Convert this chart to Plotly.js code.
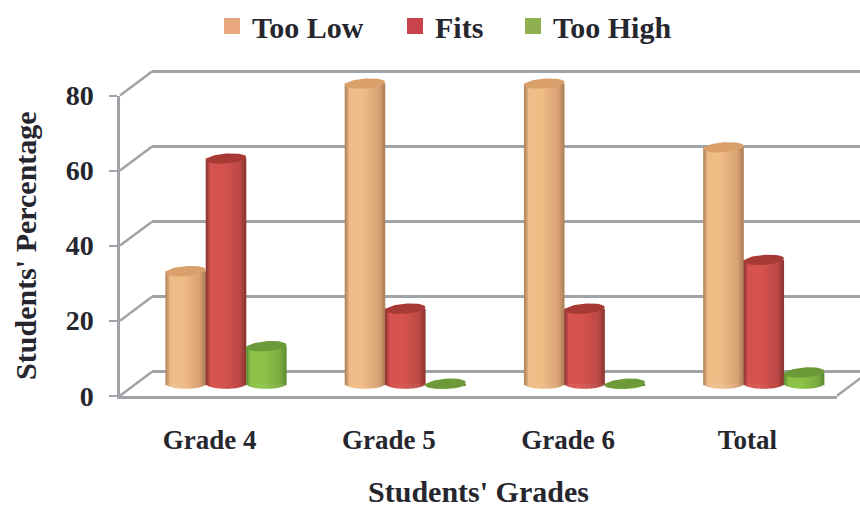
<!DOCTYPE html>
<html>
<head>
<meta charset="utf-8">
<script src="https://cdn.plot.ly/plotly-3.0.1.min.js"></script>
<style>html,body{margin:0;padding:0;background:#fff}</style>
</head>
<body>
<div id="chart" style="width:860px;height:509px"></div>
<script>
// Student responses per grade
const grades = ["Grade 4", "Grade 5", "Grade 6", "Total"];
const tooLow = [30, 80, 80, 63];
const fits = [60, 20, 20, 33];
const tooHigh = [10, 0, 0, 3];
const yTicks = [0, 20, 40, 60, 80];

const W = 860, H = 509;
const fx = x => x / W;
const fy = y => 1 - y / H;

// Pseudo-3D box: front plane, plane of the cylinders, back wall (pixel anchors)
const UNIT = 3.76;
const FRONT = {left: 120, right: 837, zero: 395.5};
const BACK = {left: 152, zero: 371.5};
const BARS = {left: 136.4, right: 853.4, zero: 383.5};
const GROUP = (FRONT.right - FRONT.left) / grades.length;
const BAR_W = 40.3 / GROUP;
const CAP_RY = 5 / UNIT;
const CAP_TILT = 1.5 / UNIT;

function valueAxis(zero, top, bottom) {
  return {
    domain: [fy(bottom), fy(top)],
    range: [(zero - bottom) / UNIT, (zero - top) / UNIT]
  };
}

const seriesDefs = [
  {name: "Too Low", values: tooLow, offset: -1, base: "#e6ae79", edge: "#a87c54", light: "#efbd87", shade: "#d8a274", cap: "#d9a06c", swatch: "#e8a77f", legend: "legend", legendX: 212},
  {name: "Fits", values: fits, offset: 0, base: "#c94e4a", edge: "#883330", light: "#d65350", shade: "#bb4945", cap: "#a83a36", swatch: "#c8434a", legend: "legend2", legendX: 395},
  {name: "Too High", values: tooHigh, offset: 1, base: "#84b944", edge: "#5c8a36", light: "#8cc247", shade: "#7aa93f", cap: "#6c9a38", swatch: "#8fb050", legend: "legend3", legendX: 513}
];

function mix(a, b, t) {
  const pa = [1, 3, 5].map(i => parseInt(a.substr(i, 2), 16));
  const pb = [1, 3, 5].map(i => parseInt(b.substr(i, 2), 16));
  return "rgb(" + pa.map((v, i) => Math.round(v + (pb[i] - v) * t)).join(",") + ")";
}

// Horizontal shading across a cylinder, u runs from -1 to 1
function shadeAt(s, u) {
  if (u < -0.75) return mix(s.edge, s.light, (u + 1) / 0.25);
  if (u < -0.1) return s.light;
  if (u < 0.7) return mix(s.light, s.shade, (u + 0.1) / 0.8);
  return mix(s.shade, s.edge, (u - 0.7) / 0.3);
}

const traces = [];

// Back wall subplot carries the gridlines
traces.push({type: "scatter", x: [0], y: [0], xaxis: "x", yaxis: "y", mode: "none", showlegend: false, hoverinfo: "skip"});
// Front subplot carries the visible axes
traces.push({type: "scatter", x: [0], y: [0], xaxis: "x2", yaxis: "y2", mode: "none", showlegend: false, hoverinfo: "skip"});

const STRIPS = 20;
seriesDefs.forEach(s => {
  const cx = grades.map((_, i) => i + s.offset * BAR_W);
  // Flat body behind the shading
  traces.push({
    type: "bar", name: s.name, x: cx, y: s.values, width: BAR_W * 0.98,
    xaxis: "x3", yaxis: "y3", marker: {color: s.base, line: {width: 0}},
    showlegend: false, hoverinfo: "y"
  });
  // Narrow strips give the round shading and the curved bottom edge
  const sx = [], sy = [], sb = [], sc = [];
  s.values.forEach((v, i) => {
    for (let k = 0; k < STRIPS; k++) {
      const u = -1 + (2 * k + 1) / STRIPS;
      const drop = CAP_RY * Math.sqrt(1 - u * u);
      sx.push(cx[i] + u * BAR_W / 2);
      sb.push(-drop);
      sy.push(v + drop);
      sc.push(shadeAt(s, u));
    }
  });
  traces.push({
    type: "bar", x: sx, y: sy, base: sb, width: BAR_W / STRIPS * 1.15,
    xaxis: "x3", yaxis: "y3", marker: {color: sc, line: {width: 0}},
    showlegend: false, hoverinfo: "skip"
  });
});

// Elliptical tops sit at each bar's value
seriesDefs.forEach(s => {
  s.values.forEach((v, i) => {
    const c = i + s.offset * BAR_W, ex = [], ey = [];
    for (let a = 0; a <= 48; a++) {
      const t = a / 48 * 2 * Math.PI;
      ex.push(c + Math.cos(t) * BAR_W / 2);
      ey.push(v + Math.sin(t) * CAP_RY + Math.cos(t) * CAP_TILT);
    }
    traces.push({
      type: "scatter", x: ex, y: ey, mode: "lines", fill: "toself", fillcolor: s.cap,
      line: {width: 0, color: s.cap}, xaxis: "x3", yaxis: "y3",
      showlegend: false, hoverinfo: "skip"
    });
  });
});

// Legend keys: one independently placed legend per series
seriesDefs.forEach(s => {
  traces.push({
    type: "scatter", name: s.name, x: [null], y: [null], mode: "markers",
    marker: {symbol: "square", size: 16, color: s.swatch},
    xaxis: "x3", yaxis: "y3", legend: s.legend, hoverinfo: "skip"
  });
});

const LINE = "#a0a4a8";
const LINE_W = 2.5;
const TEXT = "#26262e";
const font = (size) => ({family: "Liberation Serif", size: size, color: TEXT, weight: 700});

// Slanted edges joining the front axis to the back wall
const shapes = yTicks.map(v => ({
  type: "line", xref: "paper", yref: "paper", layer: "below",
  x0: fx(FRONT.left), y0: fy(FRONT.zero - v * UNIT),
  x1: fx(BACK.left), y1: fy(BACK.zero - v * UNIT),
  line: {color: LINE, width: LINE_W}
}));
shapes.push({
  type: "line", xref: "paper", yref: "paper", layer: "below",
  x0: fx(FRONT.right), y0: fy(FRONT.zero),
  x1: fx(FRONT.right + BACK.left - FRONT.left), y1: fy(BACK.zero),
  line: {color: LINE, width: LINE_W}
});

const layout = {
  width: W, height: H, autosize: false,
  margin: {l: 0, r: 0, t: 0, b: 0},
  paper_bgcolor: "#fff", plot_bgcolor: "rgba(0,0,0,0)",
  barmode: "overlay",
  showlegend: true,
  xaxis: {domain: [fx(BACK.left), 1], range: [0, 1], visible: false, fixedrange: true},
  yaxis: Object.assign(valueAxis(BACK.zero, BACK.zero - 80 * UNIT - 6, BACK.zero + 6), {
    anchor: "x", tickvals: yTicks, showgrid: true, gridcolor: LINE, gridwidth: LINE_W,
    showticklabels: false, ticks: "", zeroline: false, showline: false, fixedrange: true
  }),
  xaxis2: {
    domain: [fx(FRONT.left), fx(FRONT.right)], range: [-0.5, 3.5], anchor: "y2",
    tickvals: grades.map((_, i) => i), ticktext: grades, tickfont: font(27), ticks: "",
    ticklabelstandoff: 18, showgrid: false, zeroline: false, showline: true, linecolor: LINE, linewidth: LINE_W,
    title: {text: "Students' Grades", font: font(30), standoff: 28}, fixedrange: true
  },
  yaxis2: Object.assign(valueAxis(FRONT.zero, FRONT.zero - 80 * UNIT, FRONT.zero), {
    anchor: "x2", tickvals: yTicks, tickfont: font(28), ticks: "outside", ticklen: 8, tickwidth: 2, tickcolor: LINE,
    ticklabelstandoff: 10, showgrid: false, zeroline: false, showline: true, linecolor: LINE, linewidth: LINE_W,
    title: {text: "Students' Percentage", font: font(30), standoff: 21}, fixedrange: true
  }),
  xaxis3: {domain: [fx(BARS.left), fx(BARS.right)], range: [-0.5, 3.5], anchor: "y3", visible: false, fixedrange: true},
  yaxis3: Object.assign(valueAxis(BARS.zero, 60, 400), {anchor: "x3", visible: false, fixedrange: true}),
  shapes: shapes
};

seriesDefs.forEach(s => {
  layout[s.legend] = {
    x: fx(s.legendX), xanchor: "left", y: fy(25), yanchor: "middle",
    font: font(30), itemsizing: "trace", bgcolor: "rgba(0,0,0,0)"
  };
});

Plotly.newPlot("chart", traces, layout, {displayModeBar: false, responsive: false});
</script>
</body>
</html>
